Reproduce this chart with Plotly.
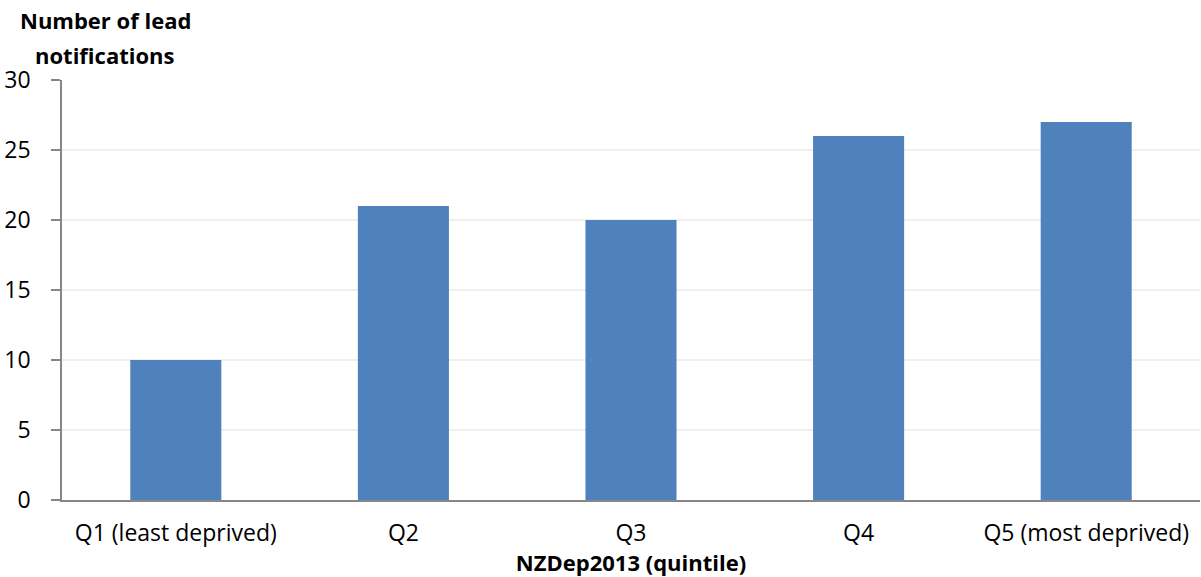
import plotly.graph_objects as go

categories = ["Q1 (least deprived)", "Q2", "Q3", "Q4", "Q5 (most deprived)"]
values = [10, 21, 20, 26, 27]
y_ticks = [0, 5, 10, 15, 20, 25, 30]
y_title_lines = ["Number of lead", "notifications"]

FONT = "'Open Sans', sans-serif"
FS = 22
TFS = 23

fig = go.Figure(go.Bar(
    x=categories, y=values, width=0.4,
    marker=dict(color="#4F81BD", line=dict(width=0)),
))

fig.update_layout(
    width=1201, height=577,
    margin=dict(l=62, r=1, t=80, b=77),
    plot_bgcolor="white", paper_bgcolor="white",
    font=dict(family=FONT, size=FS, color="#000000"),
    showlegend=False,
    xaxis=dict(
        range=[-0.5, 4.5],
        showline=True, linecolor="#868686", linewidth=1.5,
        ticks="", showgrid=False,
        tickfont=dict(size=TFS),
        ticklabelstandoff=12,
        title=dict(text="<b>NZDep2013 (quintile)</b>", font=dict(size=FS), standoff=2),
    ),
    yaxis=dict(
        range=[0, 30], tickvals=y_ticks,
        showline=True, linecolor="#868686", linewidth=1.5,
        ticks="outside", ticklen=9, tickcolor="#868686", tickwidth=1.5,
        showgrid=True, gridcolor="#EFEFEF", gridwidth=1.5,
        zeroline=False,
        tickfont=dict(size=TFS),
        ticklabelstandoff=16,
    ),
    annotations=[
        dict(text=f"<b>{y_title_lines[0]}</b>", xref="paper", yref="paper",
             x=0.038, y=1.0, xanchor="center", yanchor="middle", yshift=60,
             showarrow=False, font=dict(size=FS, family=FONT)),
        dict(text=f"<b>{y_title_lines[1]}</b>", xref="paper", yref="paper",
             x=0.038, y=1.0, xanchor="center", yanchor="middle", yshift=25,
             showarrow=False, font=dict(size=FS, family=FONT)),
    ],
)

fig.write_html("out.html")
